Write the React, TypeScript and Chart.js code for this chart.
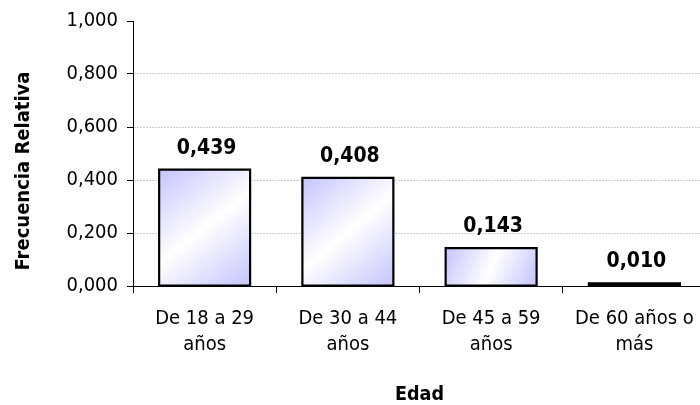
import React, { useEffect, useRef } from "react";
import { Chart, registerables } from "chart.js";

Chart.register(...registerables);

const categories: string[][] = [
  ["De 18 a 29", "años"],
  ["De 30 a 44", "años"],
  ["De 45 a 59", "años"],
  ["De 60 años o", "más"],
];
const values: number[] = [0.439, 0.408, 0.143, 0.01];
const yTicks: number[] = [0, 0.2, 0.4, 0.6, 0.8, 1.0];
const yTitle = "Frecuencia Relativa";
const xTitle = "Edad";

const FONT = "'DejaVu Sans Condensed', 'Liberation Sans', sans-serif";
const fmt = (v: number) => v.toFixed(3).replace(".", ",");
const BAR_PCT = 0.635;
const BW = 2.2;

const labelPlugin = {
  id: "valueLabels",
  afterDatasetsDraw(chart: any) {
    const ctx = chart.ctx;
    const meta = chart.getDatasetMeta(0);
    ctx.save();
    // outlines straddling the bar edges
    ctx.strokeStyle = "#000";
    ctx.lineWidth = BW;
    ctx.lineJoin = "miter";
    meta.data.forEach((bar: any) => {
      const { x, y, base, width } = bar.getProps(["x", "y", "base", "width"], true);
      ctx.beginPath();
      ctx.rect(x - width / 2, y, width, base - y);
      ctx.stroke();
    });
    ctx.font = `bold 21px ${FONT}`;
    ctx.fillStyle = "#000";
    ctx.textAlign = "center";
    ctx.textBaseline = "alphabetic";
    meta.data.forEach((bar: any, i: number) => {
      ctx.fillText(fmt(values[i]), bar.x + 2, bar.y - 16);
    });
    ctx.restore();
  },
  afterDraw(chart: any) {
    const ctx = chart.ctx;
    ctx.save();
    ctx.font = `bold 20px ${FONT}`;
    ctx.fillStyle = "#000";
    ctx.textAlign = "center";
    ctx.textBaseline = "middle";
    ctx.translate(24, 171);
    ctx.rotate(-Math.PI / 2);
    ctx.fillText(yTitle, 0, 0);
    ctx.restore();
  },
};

export default function App() {
  const ref = useRef<HTMLCanvasElement | null>(null);
  useEffect(() => {
    if (!ref.current) return;
    const chart = new Chart(ref.current, {
      type: "bar",
      data: {
        labels: categories,
        datasets: [
          {
            data: values,
            borderWidth: 0,
            barPercentage: BAR_PCT,
            categoryPercentage: 1,
            backgroundColor: (c: any) => {
              const ch = c.chart;
              const xs = ch.scales?.x;
              const ys = ch.scales?.y;
              if (!xs || !ys || c.dataIndex === undefined) return "#d0d0ff";
              const cx = xs.getPixelForValue(c.dataIndex);
              const w = (xs.width / categories.length) * BAR_PCT;
              const top = ys.getPixelForValue(values[c.dataIndex]);
              const bot = ys.getPixelForValue(0);
              if (![cx, w, top, bot].every((n) => Number.isFinite(n))) return "#d0d0ff";
              if (bot - top < 2 * BW + 1) return "#000";
              const g = ch.ctx.createLinearGradient(cx - w / 2, top, cx + w / 2, bot);
              g.addColorStop(0, "#c4c4ff");
              g.addColorStop(0.5, "#ffffff");
              g.addColorStop(1, "#c4c4ff");
              return g;
            },
          },
        ],
      },
      options: {
        animation: false,
        responsive: false,
        maintainAspectRatio: false,
        layout: { padding: { top: 19, right: 4, left: 0, bottom: 0 } },
        plugins: { legend: { display: false }, tooltip: { enabled: false } },
        scales: {
          x: {
            grid: {
              display: true,
              drawOnChartArea: false,
              drawTicks: true,
              tickLength: 7,
              tickColor: "#000",
              offset: true,
            },
            border: { color: "#000", width: 1 },
            ticks: {
              color: "#000",
              font: { family: FONT, size: 20, lineHeight: 1.3 },
              padding: 13,
              maxRotation: 0,
            },
            title: {
              display: true,
              text: xTitle,
              color: "#000",
              font: { family: FONT, size: 19.5, weight: "bold" },
              padding: { top: 0, bottom: -2 },
            },
            afterFit: (s: any) => {
              s.height = 119;
            },
          },
          y: {
            min: 0,
            max: 1,
            afterBuildTicks: (s: any) => {
              s.ticks = yTicks.map((v) => ({ value: v }));
            },
            grid: {
              color: (c: any) =>
                c.tick && (c.tick.value === 0 || c.tick.value === 1) ? "rgba(0,0,0,0)" : "#cfcfcf",
              tickColor: "#000",
              tickLength: 6,
              drawTicks: true,
            },
            border: { color: "#000", width: 1, dash: [2, 1] },
            ticks: {
              color: "#000",
              font: { family: FONT, size: 20 },
              padding: 9,
              callback: (v: any) => fmt(Number(v)),
            },
            title: { display: false },
            afterFit: (s: any) => {
              s.width = 133;
            },
          },
        },
      },
      plugins: [labelPlugin],
    });
    return () => chart.destroy();
  }, []);
  return (
    <div style={{ position: "fixed", left: 0, top: 0, width: 700, height: 405, overflow: "hidden", background: "#fff" }}>
      <canvas ref={ref} width={710} height={405} style={{ display: "block" }} />
    </div>
  );
}
